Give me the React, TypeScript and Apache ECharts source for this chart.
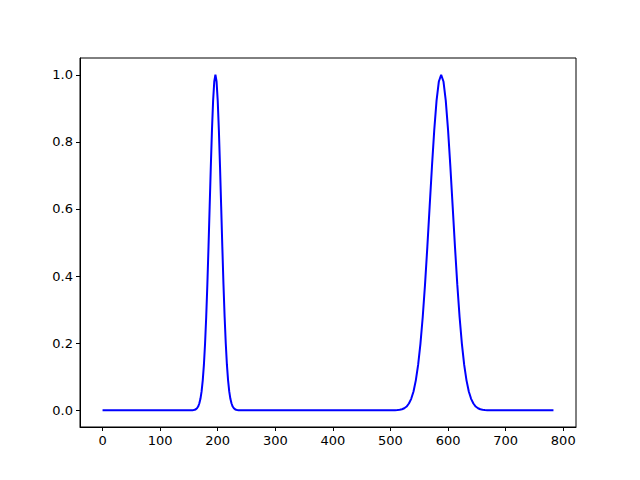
import React, { useEffect, useRef } from "react";
import * as echarts from "echarts";

// Sample positions (x index)
const xValues: number[] = [
  0, 100,
  156, 158, 160, 162, 164, 166, 168, 170, 172, 174, 176, 178, 180, 182, 184, 186, 188, 190, 192, 194,
  196,
  198, 200, 202, 204, 206, 208, 210, 212, 214, 216, 218, 220, 222, 224, 226, 228, 230, 232, 234, 236,
  300, 400,
  508, 512, 516, 520, 524, 528, 532, 536, 540, 544, 548, 552, 556, 560, 564, 568, 572, 576, 580, 584,
  588,
  592, 596, 600, 604, 608, 612, 616, 620, 624, 628, 632, 636, 640, 644, 648, 652, 656, 660, 664, 668,
  700, 783,
];

// Curve heights
const yValues: number[] = [
  0, 0,
  0, 0.0007, 0.0015, 0.003, 0.006, 0.011, 0.02, 0.034, 0.056, 0.089, 0.135, 0.198, 0.278, 0.375, 0.487, 0.607, 0.726, 0.835, 0.923, 0.98,
  1.0,
  0.98, 0.923, 0.835, 0.726, 0.607, 0.487, 0.375, 0.278, 0.198, 0.135, 0.089, 0.056, 0.034, 0.02, 0.011, 0.006, 0.003, 0.0015, 0.0007, 0,
  0, 0,
  0, 0.0007, 0.0015, 0.003, 0.006, 0.011, 0.02, 0.034, 0.056, 0.089, 0.135, 0.198, 0.278, 0.375, 0.487, 0.607, 0.726, 0.835, 0.923, 0.98,
  1.0,
  0.98, 0.923, 0.835, 0.726, 0.607, 0.487, 0.375, 0.278, 0.198, 0.135, 0.089, 0.056, 0.034, 0.02, 0.011, 0.006, 0.003, 0.0015, 0.0007, 0,
  0, 0,
];

const xTicks: number[] = [0, 100, 200, 300, 400, 500, 600, 700, 800];
const yTicks: number[] = [0, 0.2, 0.4, 0.6, 0.8, 1.0];

export default function App() {
  const ref = useRef<HTMLDivElement>(null);
  useEffect(() => {
    if (!ref.current) return;
    const chart = echarts.init(ref.current, null, { renderer: "svg" });
    const font = "DejaVu Sans";
    chart.setOption({
      animation: false,
      backgroundColor: "#ffffff",
      grid: {
        left: 80,
        right: 64,
        top: 58,
        bottom: 53,
        show: true,
        borderColor: "#000000",
        borderWidth: 1,
        backgroundColor: "transparent",
      },
      xAxis: {
        type: "value",
        min: -39.15,
        max: 822.15,
        axisLine: { show: true, onZero: false, lineStyle: { color: "#000000", width: 1 } },
        splitLine: { show: false },
        axisTick: {
          show: true,
          length: 4,
          inside: false,
          customValues: xTicks,
          lineStyle: { color: "#000000", width: 1 },
        },
        axisLabel: {
          customValues: xTicks,
          color: "#000000",
          fontFamily: font,
          fontSize: 13,
          margin: 7,
          formatter: (v: number) => String(Math.round(v)),
        },
      },
      yAxis: {
        type: "value",
        min: -0.05,
        max: 1.05,
        axisLine: { show: true, onZero: false, lineStyle: { color: "#000000", width: 1 } },
        splitLine: { show: false },
        axisTick: {
          show: true,
          length: 4,
          inside: false,
          customValues: yTicks,
          lineStyle: { color: "#000000", width: 1 },
        },
        axisLabel: {
          customValues: yTicks,
          color: "#000000",
          fontFamily: font,
          fontSize: 13,
          margin: 7,
          formatter: (v: number) => v.toFixed(1),
        },
      },
      series: [
        {
          type: "line",
          data: xValues.map((x, i) => [x, yValues[i]]),
          showSymbol: false,
          symbol: "none",
          smooth: false,
          lineStyle: { color: "#0000ff", width: 2 },
        },
      ],
    });
    return () => chart.dispose();
  }, []);
  return (
    <div
      ref={ref}
      style={{ position: "absolute", left: 0, top: 0, width: 640, height: 480 }}
    />
  );
}
